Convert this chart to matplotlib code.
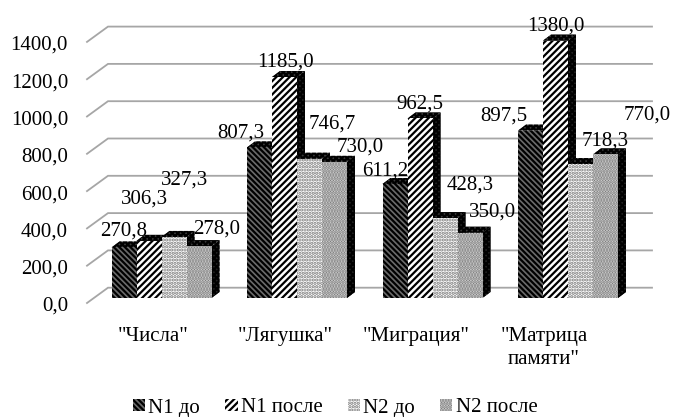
import matplotlib
matplotlib.use("Agg")
import matplotlib.pyplot as plt
from matplotlib.patches import Patch

plt.rcParams["font.family"] = ["Liberation Serif", "DejaVu Serif"]
plt.rcParams["hatch.linewidth"] = 1.6

# ── data ─────────────────────────────────────────────────────────────────────
categories = ['"Числа"', '"Лягушка"', '"Миграция"', '"Матрица\nпамяти"']
series_names = ["N1 до", "N1 после", "N2 до", "N2 после"]
n1_before = [270.8, 807.3, 611.2, 897.5]
n1_after = [306.3, 1185.0, 962.5, 1380.0]
n2_before = [327.3, 746.7, 428.3, 718.3]
n2_after = [278.0, 730.0, 350.0, 770.0]
y_ticks = [0, 200, 400, 600, 800, 1000, 1200, 1400]
series = [n1_before, n1_after, n2_before, n2_after]

# label centres in pixels, one row per series (Excel left them scattered)
label_px = [
    [(124, 229), (241, 131), (385, 169), (504, 114)],
    [(144, 197), (285, 60), (420, 102), (556, 24)],
    [(185, 178), (332, 122), (470, 183), (605, 139)],
    [(217, 227), (360, 145), (492, 210), (647, 113)],
]
cat_px = [153, 285, 416, 544]

# ── styles ───────────────────────────────────────────────────────────────────
STYLES = [
    {"fc": "#6a6a6a", "ec": "#000000", "hatch": "\\\\\\\\\\\\"},
    {"fc": "#ffffff", "ec": "#000000", "hatch": "/////"},
    {"fc": "#ffffff", "ec": "#777777", "hatch": "....."},
    {"fc": "#e2e2e2", "ec": "#777777", "hatch": "......"},
]
FONT = 15
W, H = 674, 417
PX_PER_GROUP = 135.5     # px between category centres
GROUP0_PX = 161.5        # px of first category centre
BASE_PX = 298            # px of value 0 on the bar front
PX_PER_VAL = 0.1865
BAR_W = 25 / PX_PER_GROUP
DX, DV = 8 / PX_PER_GROUP, 6 / PX_PER_VAL          # bar depth
WALL_L = (108 - GROUP0_PX) / PX_PER_GROUP          # back wall left
WALL_R = (652 - GROUP0_PX) / PX_PER_GROUP
FRONT_L = (87 - GROUP0_PX) / PX_PER_GROUP
WALL_DV = (BASE_PX - 287.7) / PX_PER_VAL           # back wall lift
FRONT_DV = (BASE_PX - 303) / PX_PER_VAL


def px_x(px):
    return (px - GROUP0_PX) / PX_PER_GROUP


def px_y(px):
    return (BASE_PX - px) / PX_PER_VAL


fig = plt.figure(figsize=(W / 100, H / 100), dpi=100)
ax = fig.add_axes([0, 0, 1, 1])
ax.set_xlim(px_x(0), px_x(W))
ax.set_ylim(px_y(H), px_y(0))
ax.axis("off")

# gridlines and y labels
for v in y_ticks:
    ax.plot([FRONT_L, WALL_L, WALL_R], [v + FRONT_DV, v + WALL_DV, v + WALL_DV],
            color="#a6a6a6", lw=1.3, zorder=1, solid_joinstyle="miter")
    ax.text(px_x(68), v + px_y(304), f"{v:.1f}".replace(".", ","),
            ha="right", va="center_baseline", fontsize=FONT, color="black")

# bars, left to right so that each one covers the side of the previous
for s, vals in enumerate(series):
    st = STYLES[s]
    for i, v in enumerate(vals):
        x0 = i + (s - 2) * BAR_W
        x1 = x0 + BAR_W
        z = 2 + i * 10 + s * 3
        ax.fill([x1, x1 + DX, x1 + DX, x1], [0, DV, v + DV, v],
                facecolor="#222222", edgecolor="#000000", hatch="xxxxxx",
                lw=0, zorder=z)
        ax.fill([x0, x0 + DX, x1 + DX, x1], [v, v + DV, v + DV, v],
                facecolor="#3a3a3a", edgecolor="#000000", hatch="xxxxxx",
                lw=0, zorder=z + 1)
        ax.bar(x0, v, BAR_W, align="edge", facecolor=st["fc"],
               edgecolor=st["ec"], hatch=st["hatch"], linewidth=0, zorder=z + 2)

# data labels
for s, vals in enumerate(series):
    for i, v in enumerate(vals):
        lx, ly = label_px[s][i]
        ax.text(px_x(lx), px_y(ly), f"{v:.1f}".replace(".", ","),
                ha="center", va="center_baseline", fontsize=FONT, color="black", zorder=100)

# category labels
for i, cat in enumerate(categories):
    ax.text(px_x(cat_px[i]), px_y(327), cat, ha="center", va="top",
            fontsize=FONT, linespacing=1.3, color="black")

handles = [Patch(facecolor=st["fc"], edgecolor=st["ec"], hatch=st["hatch"], linewidth=0,
                 label=name) for st, name in zip(STYLES, series_names)]
fig.legend(handles=handles, loc="center", bbox_to_anchor=(335 / W, 1 - 408 / H),
           ncol=4, frameon=False, fontsize=FONT, handlelength=0.6, handleheight=0.5,
           handletextpad=0.15, columnspacing=1.2, borderpad=0)

fig.savefig("out.png", dpi=100)
